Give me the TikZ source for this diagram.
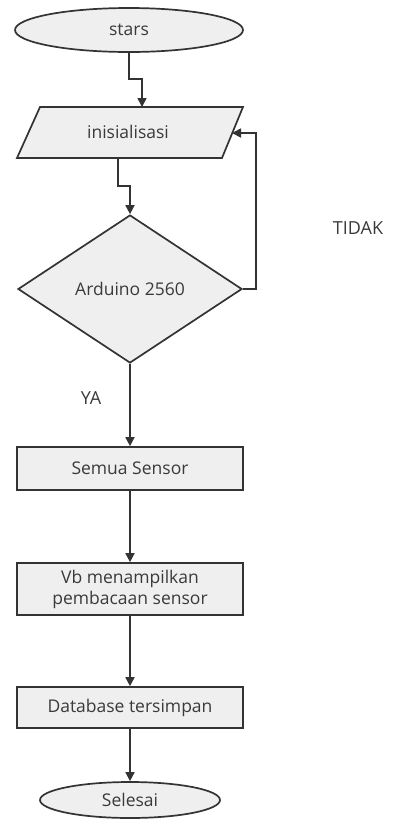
\documentclass[tikz,border=0pt]{standalone}
\usepackage{fontspec}
\setmainfont{Open Sans}
\usetikzlibrary{shapes.geometric,arrows.meta}
\definecolor{ln}{HTML}{333333}
\definecolor{tx}{HTML}{3A3A3A}
\definecolor{fl}{HTML}{EFEFEF}
\tikzset{
  x=1pt,y=1pt,
  base/.style={draw=ln,line width=1.7pt,fill=fl,text=tx,font=\fontsize{17.5}{20}\selectfont,inner sep=0pt},
  term/.style={base,ellipse},
  procbox/.style={base,rectangle,minimum width=226pt,align=center},
  decide/.style={base,diamond,minimum width=224pt,minimum height=148pt},
  arr/.style={draw=ln,line width=1.7pt,-{Triangle[length=9pt,width=9pt]}},
  lbl/.style={text=tx,font=\fontsize{18}{21}\selectfont}
}
\begin{document}
\begin{tikzpicture}
\useasboundingbox (0,0) rectangle (398,-823);
% start
\node[term,minimum width=228pt,minimum height=44pt] (start) at (129,-30) {stars};
% parallelogram
\draw[draw=ln,line width=1.7pt,fill=fl] (40,-107) -- (243,-107) -- (222,-158) -- (17,-158) -- cycle;
\node[text=tx,font=\fontsize{17.5}{20}\selectfont] (init) at (128,-132) {inisialisasi};
\coordinate (inittop) at (142,-107);
\coordinate (initbot) at (118,-158);
\coordinate (initright) at (232,-133);
% decision
\node[decide] (dec) at (130,-289) {Arduino 2560};
% boxes
\node[procbox,minimum height=43pt] (semua) at (130,-468.5) {Semua Sensor};
\node[procbox,minimum height=52pt,font=\fontsize{17.5}{21}\selectfont] (vb) at (130,-589) {Vb menampilkan\\pembacaan sensor};
\node[procbox,minimum height=41pt] (db) at (130,-707.5) {Database tersimpan};
\node[term,minimum width=180pt,minimum height=36pt] (end) at (130,-800) {Selesai};
% labels
\node[lbl] (tidak) at (358,-228) {TIDAK};
\node[lbl] (ya) at (91,-398) {YA};
% connectors
\coordinate (j1) at (142,-79);
\coordinate (j2) at (130,-186);
\coordinate (loop) at (256,-133);
\draw[arr] (start.south) |- (j1) -- (inittop);
\draw[arr] (initbot) |- (j2) -- (dec.north);
\draw[arr] (dec.east) -| (loop) -- (initright);
\draw[arr] (dec.south) -- (semua.north);
\draw[arr] (semua.south) -- (vb.north);
\draw[arr] (vb.south) -- (db.north);
\draw[arr] (db.south) -- (end.north);
\end{tikzpicture}
\end{document}
